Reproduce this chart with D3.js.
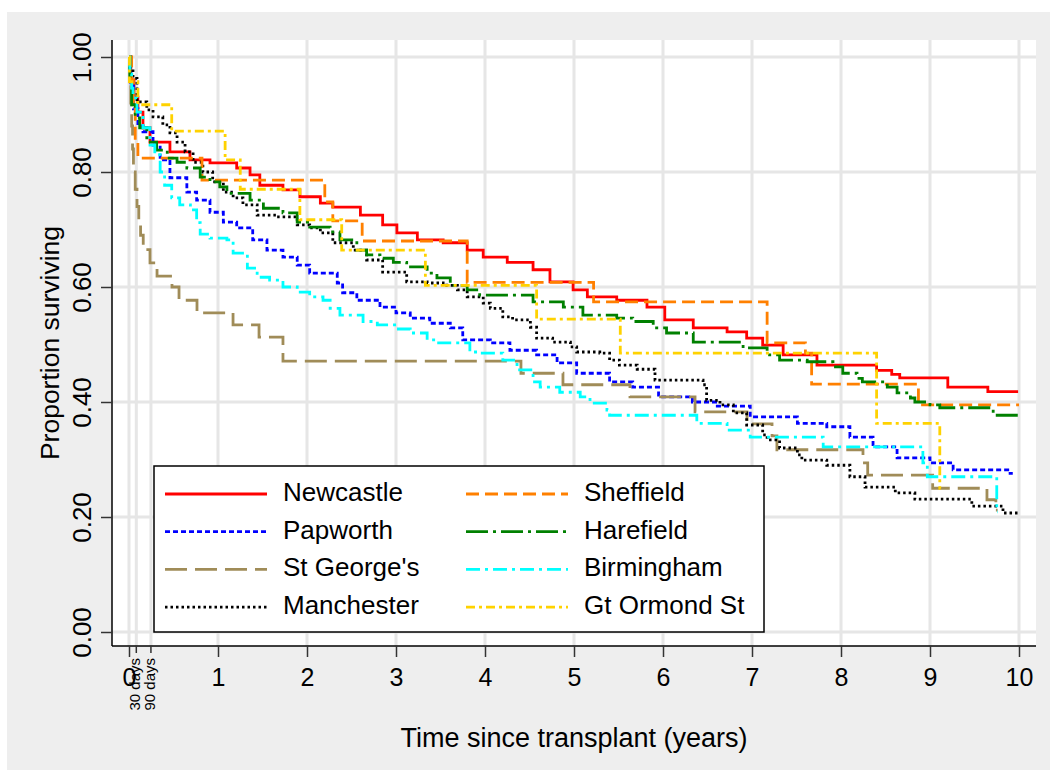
<!DOCTYPE html>
<html>
<head>
<meta charset="utf-8">
<script src="https://cdn.jsdelivr.net/npm/d3@7"></script>
<style>
  html, body { margin: 0; padding: 0; background: #fff; }
  svg { display: block; font-family: "Liberation Sans", Arial, Helvetica, sans-serif; }
</style>
</head>
<body>
<svg id="chart" width="1053" height="774"></svg>
<script>
// Kaplan-Meier survival by transplant centre
const centres = ["Newcastle", "Papworth", "St George's", "Manchester",
                 "Sheffield", "Harefield", "Birmingham", "Gt Ormond St"];

// [years, proportion surviving] step points
const newcastle = [[0,1],[0.02,0.96],[0.056,0.93],[0.1,0.904],[0.157,0.877],[0.236,0.852],[0.46,0.835],
  [0.685,0.821],[0.91,0.816],[1.21,0.807],[1.36,0.795],[1.47,0.777],[1.73,0.769],[1.92,0.757],[2.15,0.746],
  [2.29,0.739],[2.6,0.725],[2.85,0.708],[3.01,0.694],[3.24,0.682],[3.53,0.677],[3.8,0.664],[3.98,0.652],
  [4.25,0.643],[4.54,0.63],[4.73,0.609],[4.99,0.595],[5.15,0.583],[5.48,0.577],[5.82,0.565],[6.02,0.543],
  [6.34,0.529],[6.72,0.522],[6.94,0.511],[7.12,0.499],[7.35,0.482],[7.73,0.464],[8.4,0.455],[8.57,0.448],
  [8.66,0.442],[9.2,0.426],[9.65,0.418],[9.99,0.418]];
const papworth = [[0,1],[0.02,0.95],[0.05,0.91],[0.1,0.88],[0.157,0.87],[0.27,0.847],[0.35,0.821],[0.46,0.79],
  [0.65,0.765],[0.76,0.751],[0.91,0.73],[1.06,0.713],[1.21,0.703],[1.39,0.682],[1.55,0.664],[1.73,0.652],
  [1.89,0.638],[2.03,0.624],[2.34,0.607],[2.4,0.59],[2.56,0.577],[2.82,0.565],[3.0,0.555],[3.16,0.546],
  [3.38,0.537],[3.61,0.529],[3.75,0.508],[4.06,0.503],[4.28,0.49],[4.58,0.482],[4.81,0.468],[5.03,0.45],
  [5.4,0.435],[5.66,0.426],[5.95,0.409],[6.33,0.4],[6.61,0.393],[6.98,0.374],[7.51,0.363],[7.84,0.357],
  [8.1,0.339],[8.36,0.322],[8.63,0.303],[9.0,0.294],[9.26,0.282],[9.9,0.276],[9.93,0.276]];
const stGeorges = [[0,1],[0.01,0.96],[0.02,0.92],[0.03,0.88],[0.04,0.84],[0.05,0.8],[0.07,0.77],[0.09,0.74],
  [0.11,0.71],[0.13,0.69],[0.16,0.665],[0.236,0.642],[0.315,0.619],[0.483,0.6],[0.562,0.577],[0.764,0.555],
  [1.169,0.534],[1.461,0.513],[1.73,0.471],[4.404,0.45],[4.876,0.43],[5.629,0.409],[6.36,0.383],[6.944,0.362],
  [7.225,0.341],[7.28,0.317],[8.247,0.294],[8.3,0.273],[9.03,0.25],[9.64,0.23],[9.74,0.212],[9.76,0.212]];
const manchester = [[0,1],[0.01,0.98],[0.045,0.963],[0.09,0.922],[0.2,0.908],[0.27,0.896],[0.38,0.882],
  [0.46,0.868],[0.54,0.852],[0.63,0.835],[0.72,0.817],[0.83,0.8],[0.94,0.783],[1.06,0.765],[1.17,0.755],
  [1.28,0.743],[1.44,0.725],[1.66,0.722],[1.89,0.708],[2.03,0.703],[2.15,0.694],[2.29,0.677],[2.52,0.664],
  [2.67,0.647],[2.85,0.626],[3.12,0.609],[3.35,0.607],[3.57,0.603],[3.69,0.595],[3.8,0.583],[3.98,0.572],
  [4.06,0.563],[4.2,0.548],[4.31,0.543],[4.51,0.53],[4.58,0.511],[4.76,0.504],[4.96,0.496],[5.03,0.487],
  [5.29,0.485],[5.4,0.473],[5.51,0.464],[5.71,0.457],[5.91,0.438],[6.45,0.43],[6.49,0.403],[6.64,0.395],
  [6.79,0.381],[6.94,0.36],[7.12,0.343],[7.17,0.334],[7.31,0.32],[7.51,0.308],[7.56,0.299],[7.84,0.29],
  [8.1,0.27],[8.27,0.252],[8.61,0.242],[8.83,0.231],[9.47,0.219],[9.82,0.207],[9.99,0.207]];
const sheffield = [[0,1],[0.03,0.96],[0.05,0.91],[0.07,0.855],[0.1,0.824],[0.82,0.786],[2.2,0.748],
  [2.29,0.715],[2.62,0.68],[3.8,0.608],[5.22,0.574],[7.17,0.503],[7.6,0.485],[7.67,0.431],[8.87,0.395],[10,0.395]];
const harefield = [[0,1],[0.01,0.96],[0.03,0.917],[0.07,0.894],[0.12,0.877],[0.2,0.852],[0.31,0.838],
  [0.43,0.824],[0.54,0.817],[0.65,0.807],[0.8,0.791],[0.91,0.783],[1.02,0.774],[1.1,0.763],[1.36,0.751],
  [1.51,0.737],[1.73,0.729],[1.89,0.713],[2.03,0.704],[2.26,0.696],[2.37,0.682],[2.56,0.664],[2.67,0.656],
  [2.82,0.65],[2.97,0.643],[3.12,0.635],[3.35,0.624],[3.46,0.616],[3.61,0.603],[3.8,0.595],[3.94,0.586],
  [4.54,0.574],[4.88,0.565],[5.1,0.551],[5.48,0.546],[5.66,0.54],[5.89,0.529],[6.04,0.52],[6.34,0.504],
  [6.9,0.494],[7.17,0.482],[7.31,0.473],[7.62,0.47],[7.91,0.461],[8.02,0.45],[8.18,0.441],[8.24,0.435],
  [8.52,0.426],[8.63,0.416],[8.78,0.407],[8.83,0.4],[9.0,0.395],[9.11,0.39],[9.71,0.377],[10,0.377]];
const birmingham = [[0,1],[0.01,0.97],[0.03,0.946],[0.045,0.929],[0.09,0.904],[0.157,0.877],[0.236,0.847],
  [0.29,0.83],[0.35,0.8],[0.4,0.777],[0.48,0.755],[0.57,0.743],[0.69,0.734],[0.76,0.712],[0.8,0.692],
  [0.91,0.685],[1.1,0.682],[1.17,0.659],[1.33,0.633],[1.44,0.617],[1.58,0.612],[1.73,0.6],[1.89,0.591],
  [2.03,0.583],[2.18,0.577],[2.26,0.563],[2.37,0.551],[2.63,0.54],[2.79,0.534],[3.01,0.527],[3.16,0.52],
  [3.35,0.508],[3.46,0.503],[3.83,0.487],[3.94,0.485],[4.2,0.473],[4.36,0.456],[4.54,0.435],[4.62,0.426],
  [4.84,0.417],[5.07,0.409],[5.18,0.398],[5.37,0.386],[5.4,0.377],[6.38,0.363],[6.72,0.351],[6.98,0.339],
  [7.8,0.322],[8.92,0.294],[8.97,0.27],[9.75,0.209],[9.76,0.209]];
const gtOrmond = [[0,1],[0.005,0.957],[0.1,0.917],[0.48,0.871],[1.08,0.821],[1.25,0.77],[1.92,0.717],
  [2.39,0.664],[3.33,0.603],[4.58,0.544],[5.52,0.485],[8.4,0.363],[9.11,0.25],[9.12,0.25]];

const seriesData = [newcastle, papworth, stGeorges, manchester, sheffield, harefield, birmingham, gtOrmond];
const colours = ["#ff0000", "#0000ff", "#a08c58", "#000000", "#ff8000", "#008000", "#00ffff", "#ffd200"];
const dashes  = [null, "5,3", "22,8", "2.5,3", "13,6", "22,5,3,5", "14,5,3,5", "9,4,3,4"];

const xTicks = [0, 1, 2, 3, 4, 5, 6, 7, 8, 9, 10];
const yTicks = [0, 0.2, 0.4, 0.6, 0.8, 1.0];
const dayTicks = [{ label: "30 days", t: 30 / 365.25 }, { label: "90 days", t: 90 / 365.25 }];

const plot = { left: 112, top: 40, right: 1036, bottom: 646 };

const svg = d3.select("#chart");

// light grey page around the graph
svg.append("rect")
  .attr("x", 7).attr("y", 12).attr("width", 1043).attr("height", 758)
  .attr("fill", "#eeeeee");
svg.append("rect")
  .attr("x", plot.left).attr("y", plot.top)
  .attr("width", plot.right - plot.left).attr("height", plot.bottom - plot.top)
  .attr("fill", "#ffffff");

const x = d3.scaleLinear().domain([0, 10]).range([129, 1019]);
const y = d3.scaleLinear().domain([0, 1]).range([632, 57]);

// grid
const grid = svg.append("g").attr("stroke", "#e6e6e6").attr("stroke-width", 3);
grid.selectAll("line.h").data(yTicks).join("line")
  .attr("x1", plot.left).attr("x2", plot.right)
  .attr("y1", d => y(d)).attr("y2", d => y(d));
grid.selectAll("line.v").data(xTicks.concat(dayTicks.map(d => d.t))).join("line")
  .attr("y1", plot.top).attr("y2", plot.bottom)
  .attr("x1", d => x(d)).attr("x2", d => x(d));

// curves
const line = d3.line()
  .x(d => x(d[0]))
  .y(d => y(d[1]))
  .curve(d3.curveStepAfter);

svg.append("g").selectAll("path")
  .data(seriesData)
  .join("path")
  .attr("d", line)
  .attr("fill", "none")
  .attr("stroke", (d, i) => colours[i])
  .attr("stroke-width", 2.8)
  .attr("stroke-dasharray", (d, i) => dashes[i]);

// axes
const yAxis = svg.append("g")
  .attr("transform", `translate(${plot.left},0)`)
  .call(d3.axisLeft(y).tickValues(yTicks).tickFormat(d3.format(".2f")).tickSize(11).tickSizeOuter(0));
yAxis.select(".domain").attr("d", `M0,${plot.top}V${plot.bottom}`).attr("stroke-width", 1.5);
yAxis.selectAll(".tick line").attr("stroke", "#333").attr("stroke-width", 1.5);
yAxis.selectAll(".tick text")
  .attr("font-size", 26)
  .attr("fill", "#000")
  .attr("text-anchor", "middle")
  .attr("x", null).attr("dy", null)
  .attr("transform", "translate(-28,0) rotate(-90)")
  .attr("dominant-baseline", "middle");

const xAxis = svg.append("g")
  .attr("transform", `translate(0,${plot.bottom})`)
  .call(d3.axisBottom(x).tickValues(xTicks).tickFormat(d3.format("d")).tickSize(11).tickSizeOuter(0));
xAxis.select(".domain").attr("d", `M${plot.left},0H${plot.right}`).attr("stroke-width", 1.5);
xAxis.selectAll(".tick line").attr("stroke", "#333").attr("stroke-width", 1.5);
xAxis.selectAll(".tick text")
  .attr("font-size", 25).attr("fill", "#000")
  .attr("y", 22).attr("dy", "0.71em");

// 30 / 90 day marks
const days = svg.append("g").attr("transform", `translate(0,${plot.bottom})`);
days.selectAll("line").data(dayTicks).join("line")
  .attr("x1", d => x(d.t)).attr("x2", d => x(d.t))
  .attr("y1", 0).attr("y2", 7)
  .attr("stroke", "#333").attr("stroke-width", 1.5);
days.selectAll("text").data(dayTicks).join("text")
  .attr("transform", d => `translate(${x(d.t)},12) rotate(-90)`)
  .attr("text-anchor", "end")
  .attr("dominant-baseline", "middle")
  .attr("font-size", 15)
  .text(d => d.label);

// axis titles
svg.append("text")
  .attr("x", 574).attr("y", 747)
  .attr("text-anchor", "middle")
  .attr("font-size", 27)
  .text("Time since transplant (years)");
svg.append("text")
  .attr("transform", "translate(52,343) rotate(-90)")
  .attr("text-anchor", "middle")
  .attr("dominant-baseline", "middle")
  .attr("font-size", 26.5)
  .text("Proportion surviving");

// legend
const legend = svg.append("g");
legend.append("rect")
  .attr("x", 154).attr("y", 466).attr("width", 610).attr("height", 166)
  .attr("fill", "#fff").attr("stroke", "#000").attr("stroke-width", 1.5);

const items = legend.selectAll("g.item")
  .data(centres)
  .join("g")
  .attr("transform", (d, i) => `translate(${i < 4 ? 165 : 466},${494 + (i % 4) * 37.7})`);
items.append("line")
  .attr("x1", 0).attr("x2", 102)
  .attr("stroke", (d, i) => colours[i])
  .attr("stroke-width", 2.8)
  .attr("stroke-dasharray", (d, i) => dashes[i]);
items.append("text")
  .attr("x", 118)
  .attr("dominant-baseline", "middle")
  .attr("font-size", 26)
  .text(d => d);
</script>
</body>
</html>
